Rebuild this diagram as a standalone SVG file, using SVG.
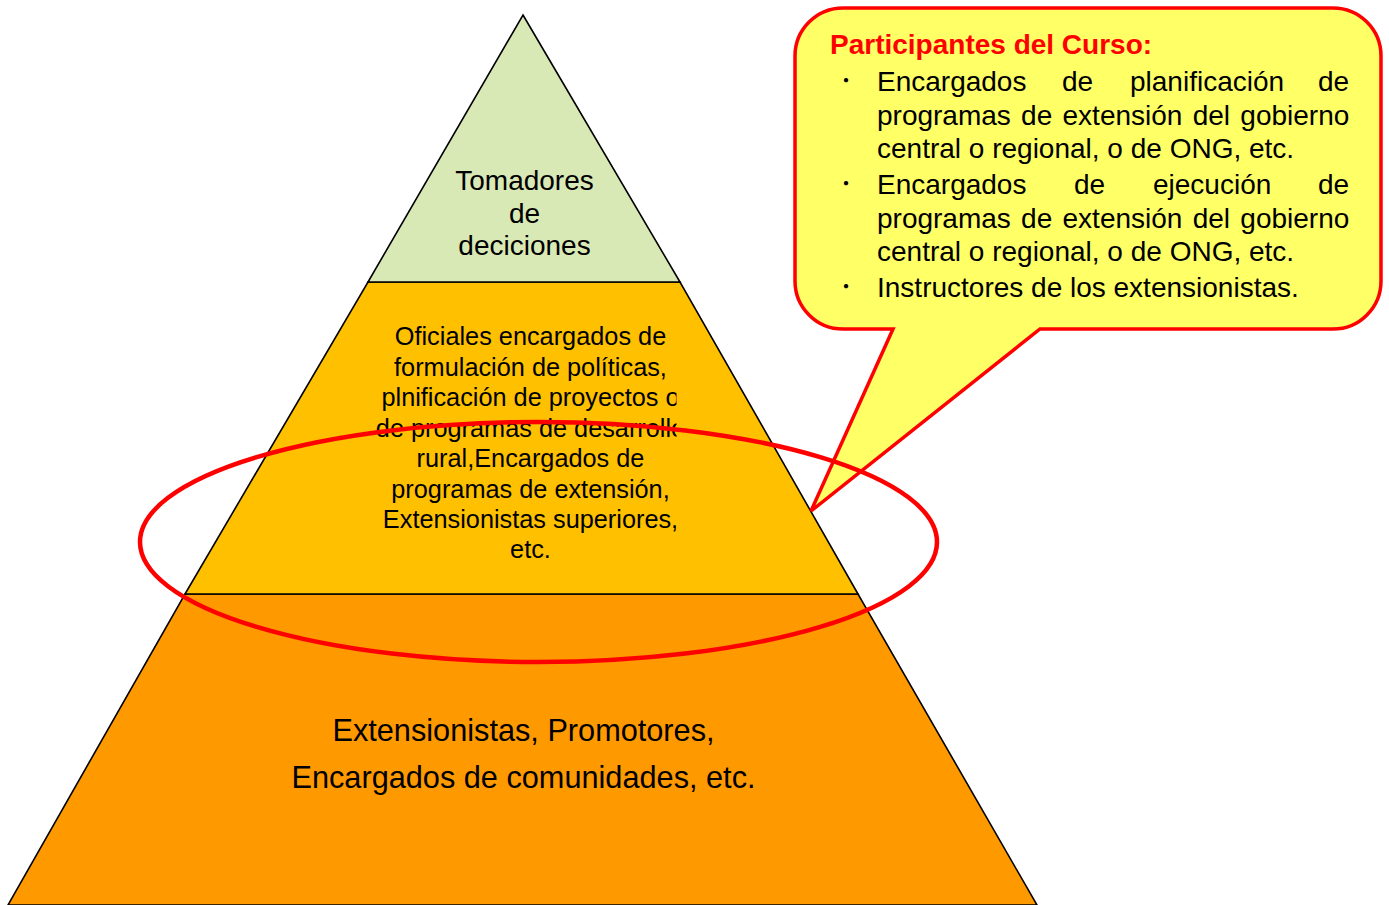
<svg xmlns="http://www.w3.org/2000/svg" width="1389" height="905" viewBox="0 0 1389 905">
<style>
.lvl{stroke:#000;stroke-width:1.6;stroke-linejoin:miter}
.t{font-family:"Liberation Sans",Arial,sans-serif;fill:#000;text-anchor:middle}
.m{font-size:25.3px}
.c{font-family:"Liberation Sans",Arial,sans-serif;fill:#000;font-size:28px}
.b{font-family:"Noto Sans CJK JP","Liberation Sans",sans-serif;fill:#000;font-size:20px}
</style>
<defs>
<clipPath id="midclip"><rect x="300" y="300" width="376.5" height="280"/></clipPath>
</defs>
<rect width="1389" height="905" fill="#fff"/>
<g id="base">
<polygon class="lvl" points="185,594 858,594 1037,905 8,905" fill="#FF9900"/>
<text class="t" font-size="30.7" x="523.5" y="741">Extensionistas, Promotores,</text>
<text class="t" font-size="30.7" x="523.5" y="788">Encargados de comunidades, etc.</text>
</g>
<g id="middle">
<polygon class="lvl" points="368,282 680,282 858,594 185,594" fill="#FFC000"/>
<g clip-path="url(#midclip)">
<text class="t m" x="530.5" y="345">Oficiales encargados de</text>
<text class="t m" x="530.5" y="375.5">formulación de políticas,</text>
<text class="t m" x="530.5" y="406">plnificación de proyectos o</text>
<text class="t m" x="530.5" y="436.5">de programas de desarrollo</text>
<text class="t m" x="530.5" y="467">rural,Encargados de</text>
<text class="t m" x="530.5" y="497.5">programas de extensión,</text>
<text class="t m" x="530.5" y="528">Extensionistas superiores,</text>
<text class="t m" x="530.5" y="558">etc.</text>
</g>
</g>
<g id="top">
<polygon class="lvl" points="523,15 680,282 368,282" fill="#D8E9B6"/>
<text class="t" font-size="28" x="524.5" y="190">Tomadores</text>
<text class="t" font-size="28" x="524.5" y="222.5">de</text>
<text class="t" font-size="28" x="524.5" y="255">deciciones</text>
</g>
<g id="callout">
<path d="M843,8 H1333 A48,48 0 0 1 1381,56 V281 A48,48 0 0 1 1333,329 H1040 L811,511 L893,329 H843 A48,48 0 0 1 795,281 V56 A48,48 0 0 1 843,8 Z" fill="#FFFF66" stroke="#FF0000" stroke-width="3.5" stroke-linejoin="miter"/>
<text x="830" y="54" font-family="'Liberation Sans',Arial,sans-serif" font-weight="bold" font-size="28" fill="#FF0000">Participantes del Curso:</text>
<text class="b" x="836" y="88">・</text>
<text class="b" x="836" y="191">・</text>
<text class="b" x="836" y="294">・</text>
<text class="c" y="91"><tspan x="877">Encargados</tspan><tspan x="1062">de</tspan><tspan x="1130">planificación</tspan><tspan x="1318">de</tspan></text>
<text class="c" x="877" y="125" word-spacing="2.5">programas de extensión del gobierno</text>
<text class="c" x="877" y="158">central o regional, o de ONG, etc.</text>
<text class="c" y="194"><tspan x="877">Encargados</tspan><tspan x="1074">de</tspan><tspan x="1153">ejecución</tspan><tspan x="1318">de</tspan></text>
<text class="c" x="877" y="228" word-spacing="2.5">programas de extensión del gobierno</text>
<text class="c" x="877" y="261">central o regional, o de ONG, etc.</text>
<text class="c" x="877" y="297">Instructores de los extensionistas.</text>
</g>
<g id="connectors">
<ellipse id="highlight" cx="538.5" cy="542" rx="398.5" ry="120" fill="none" stroke="#FF0000" stroke-width="4.5"/>
</g>
</svg>
